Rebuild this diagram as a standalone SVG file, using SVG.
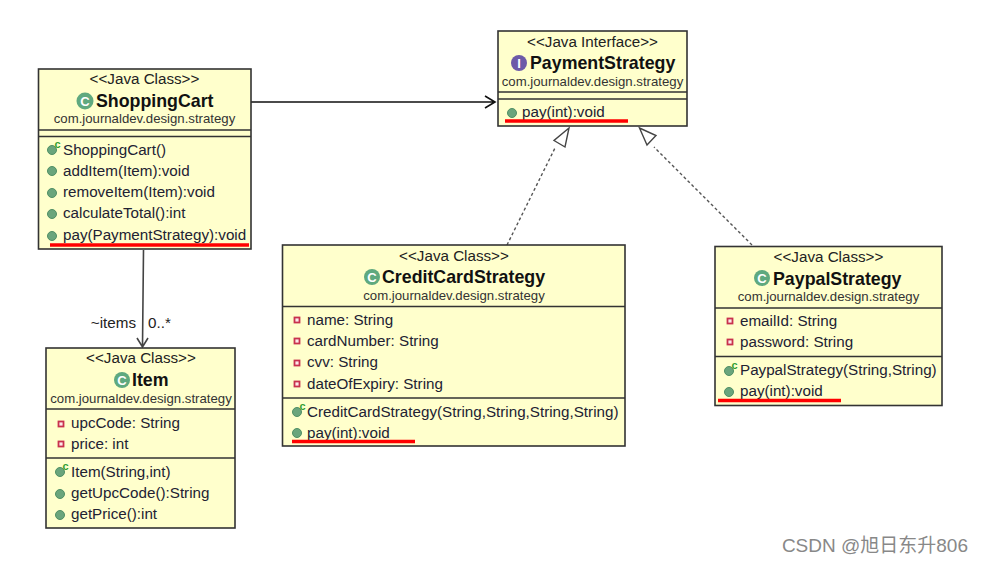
<svg xmlns="http://www.w3.org/2000/svg" width="984" height="565" viewBox="0 0 984 565">
<style>
text{font-family:"Liberation Sans",Arial,sans-serif;fill:#222}
.st{font-size:15.2px;text-anchor:middle}
.nm{font-size:17.8px;font-weight:bold;fill:#111}
.pk{font-size:13.2px;text-anchor:middle;fill:#333}
.m{font-size:15.2px;fill:#223}
.lb{font-size:15.2px}
.box{fill:#ffffcc;stroke:#333;stroke-width:1.6}
.sep{stroke:#333;stroke-width:1.4;fill:none}
.red{stroke:#f00;stroke-width:3.4;fill:none}
.pub{fill:#6aa57c;stroke:#4f8f65;stroke-width:1}
.ctor{fill:#33a033;font-size:11px;font-weight:bold}
.pri{fill:#fde8ea;stroke:#c8324e;stroke-width:1.8}
.cls{fill:#5fa97f}
.int{fill:#6d5aa8}
.gl{fill:#fff;font-size:13px;font-weight:bold;text-anchor:middle}
.con{stroke:#111;stroke-width:1.6;fill:none}
.as{stroke:#444;stroke-width:1.6;fill:none}
.dash{stroke:#555;stroke-width:1.4;fill:none;stroke-dasharray:3 2.5}
.tri{fill:#fff;stroke:#444;stroke-width:1.4}
</style>
<defs>
<g id="pub"><circle r="4.500" class="pub"/></g>
<g id="ctor"><circle r="4.500" class="pub"/><text x="2.500" y="-2" class="ctor">c</text></g>
<g id="pri"><rect x="-2.500" y="-2.500" width="5" height="5" class="pri"/></g>
</defs>
<g id="connectors">
<path class="con" d="M249 102H495M485 96L495 102L485 108"/>
<path class="as" d="M143.500 250L142.500 347M137 338L142.500 347L148 338"/>
<text class="lb" x="136" y="328" text-anchor="end">~items</text>
<text class="lb" x="148" y="328">0..*</text>
<path class="dash" d="M507 245L555 148"/>
<path class="tri" d="M569 128L554 140.500L565 147Z"/>
<path class="dash" d="M752 245L654 147"/>
<path class="tri" d="M639.500 128L647 145L656 135.500Z"/>
</g>
<g id="ShoppingCart">
<rect class="box" x="38.500" y="69" width="212.500" height="180"/>
<path class="sep" d="M38.500 130H251M38.500 136.500H251"/>
<text class="st" x="144.500" y="84">&lt;&lt;Java Class&gt;&gt;</text>
<circle class="cls" cx="85" cy="101" r="8.500"/><text class="gl" x="85" y="105.500">C</text>
<text class="nm" x="96" y="107">ShoppingCart</text>
<text class="pk" x="144.500" y="123">com.journaldev.design.strategy</text>
<use href="#ctor" x="52" y="150"/><text class="m" x="63" y="155">ShoppingCart()</text>
<use href="#pub" x="52" y="171"/><text class="m" x="63" y="176">addItem(Item):void</text>
<use href="#pub" x="52" y="193"/><text class="m" x="63" y="197">removeItem(Item):void</text>
<use href="#pub" x="52" y="214"/><text class="m" x="63" y="218">calculateTotal():int</text>
<use href="#pub" x="52" y="236"/><text class="m" x="63" y="240">pay(PaymentStrategy):void</text>
<path class="red" d="M50 245H249"/>
</g>
<g id="Item">
<rect class="box" x="46" y="348" width="189" height="180"/>
<path class="sep" d="M46 409H235M46 458H235"/>
<text class="st" x="141" y="363">&lt;&lt;Java Class&gt;&gt;</text>
<circle class="cls" cx="122" cy="380" r="8"/><text class="gl" x="122" y="384.500">C</text>
<text class="nm" x="132" y="386">Item</text>
<text class="pk" x="141" y="403">com.journaldev.design.strategy</text>
<use href="#pri" x="61" y="424"/><text class="m" x="71" y="428">upcCode: String</text>
<use href="#pri" x="61" y="444"/><text class="m" x="71" y="449">price: int</text>
<use href="#ctor" x="60" y="472"/><text class="m" x="71" y="477">Item(String,int)</text>
<use href="#pub" x="60" y="494"/><text class="m" x="71" y="498">getUpcCode():String</text>
<use href="#pub" x="60" y="515"/><text class="m" x="71" y="519">getPrice():int</text>
</g>
<g id="PaymentStrategy">
<rect class="box" x="498" y="31" width="189" height="95"/>
<path class="sep" d="M498 92H687M498 99H687"/>
<text class="st" x="592.500" y="47">&lt;&lt;Java Interface&gt;&gt;</text>
<circle class="int" cx="519" cy="63" r="8"/><text class="gl" x="519" y="67.500">I</text>
<text class="nm" x="530" y="69">PaymentStrategy</text>
<text class="pk" x="592.500" y="86">com.journaldev.design.strategy</text>
<use href="#pub" x="512" y="113"/><text class="m" x="522" y="117">pay(int):void</text>
<path class="red" d="M505 121H628"/>
</g>
<g id="CreditCardStrategy">
<rect class="box" x="282.500" y="245" width="342.500" height="201"/>
<path class="sep" d="M282.500 306.500H625M282.500 398H625"/>
<text class="st" x="454" y="261">&lt;&lt;Java Class&gt;&gt;</text>
<circle class="cls" cx="372" cy="277" r="8"/><text class="gl" x="372" y="281.500">C</text>
<text class="nm" x="382" y="283">CreditCardStrategy</text>
<text class="pk" x="454" y="300">com.journaldev.design.strategy</text>
<use href="#pri" x="297" y="320"/><text class="m" x="307" y="325">name: String</text>
<use href="#pri" x="297" y="341"/><text class="m" x="307" y="346">cardNumber: String</text>
<use href="#pri" x="297" y="363"/><text class="m" x="307" y="367">cvv: String</text>
<use href="#pri" x="297" y="384"/><text class="m" x="307" y="389">dateOfExpiry: String</text>
<use href="#ctor" x="297" y="412"/><text class="m" x="307" y="417">CreditCardStrategy(String,String,String,String)</text>
<use href="#pub" x="297" y="433"/><text class="m" x="307" y="438">pay(int):void</text>
<path class="red" d="M292 441.500H415"/>
</g>
<g id="PaypalStrategy">
<rect class="box" x="715" y="246.500" width="227" height="159"/>
<path class="sep" d="M715 308H942M715 356.500H942"/>
<text class="st" x="828.500" y="262">&lt;&lt;Java Class&gt;&gt;</text>
<circle class="cls" cx="762" cy="278" r="8"/><text class="gl" x="762" y="282.500">C</text>
<text class="nm" x="773" y="285">PaypalStrategy</text>
<text class="pk" x="828.500" y="301">com.journaldev.design.strategy</text>
<use href="#pri" x="730" y="321"/><text class="m" x="740" y="326">emailId: String</text>
<use href="#pri" x="730" y="342"/><text class="m" x="740" y="347">password: String</text>
<use href="#ctor" x="729" y="371"/><text class="m" x="740" y="375">PaypalStrategy(String,String)</text>
<use href="#pub" x="729" y="392"/><text class="m" x="740" y="396">pay(int):void</text>
<path class="red" d="M718 400.500H841"/>
</g>
<text x="968" y="552" text-anchor="end" style="font-family:'Liberation Sans','Noto Sans CJK SC',sans-serif;font-size:19px;fill:#888">CSDN @旭日东升806</text>
</svg>
